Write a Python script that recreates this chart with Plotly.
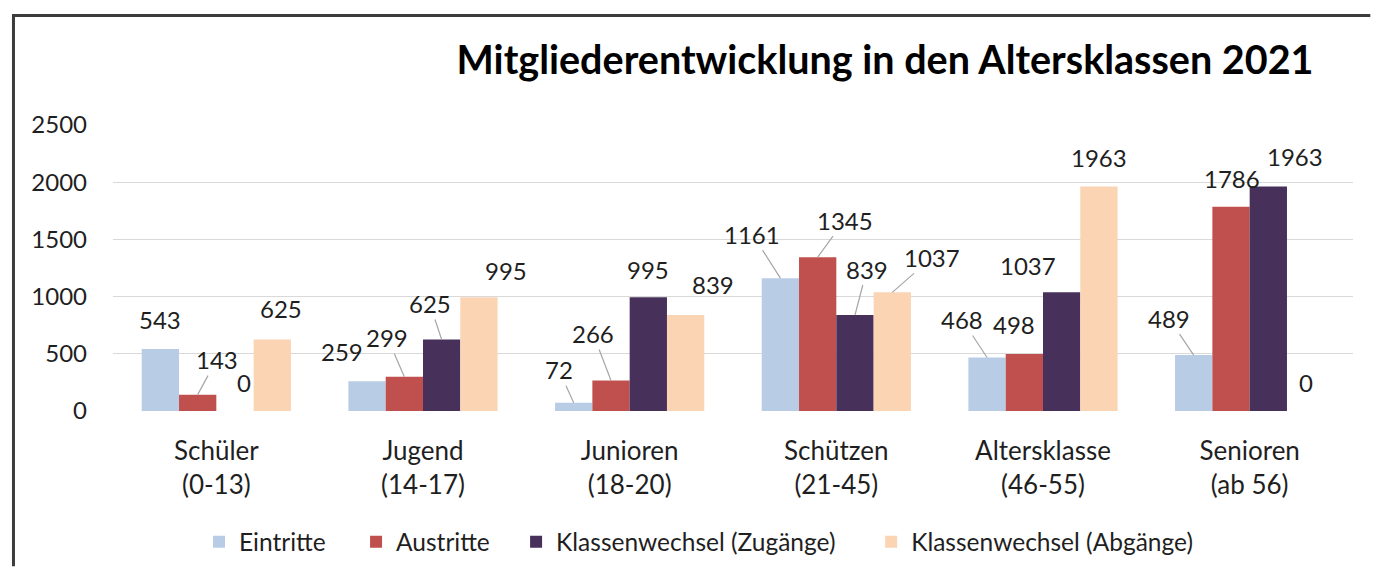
import plotly.graph_objects as go

# ---- data ----
categories = ["Schüler<br>(0-13)", "Jugend<br>(14-17)", "Junioren<br>(18-20)",
              "Schützen<br>(21-45)", "Altersklasse<br>(46-55)", "Senioren<br>(ab 56)"]
series_names = ["Eintritte", "Austritte", "Klassenwechsel (Zugänge)", "Klassenwechsel (Abgänge)"]
eintritte = [543, 259, 72, 1161, 468, 489]
austritte = [143, 299, 266, 1345, 498, 1786]
zugaenge = [0, 625, 995, 839, 1037, 1963]
abgaenge = [625, 995, 839, 1037, 1963, 0]
y_ticks = [0, 500, 1000, 1500, 2000, 2500]

# ---- styles ----
colors = ["#b9cce5", "#c0504d", "#47305a", "#fbd4b4"]
FONT = "Lato"
TXT = "#1f1f1f"
BARGAP = 0.278

# page has an 8px body margin, so the figure is drawn 16px smaller
W, H = 1364, 568
ML, MR, MT, MB = 105, 19.3, 117, 160
plot_w = W - ML - MR
plot_h = H - MT - MB

# label nudges in pixels (dx, dy up) and whether a leader line is drawn
label_style = [
    [(0, 29, False), (-25, 30, False), (-15, 33, True), (-28, 44, True), (-25, 38, True), (-25, 37, True)],
    [(19, 35, True), (-17, 39, True), (-18, 47, True), (27, 37, True), (-10, 30, False), (1, 28, False)],
    [(9, 29, False), (-12, 36, True), (0, 28, False), (12, 46, True), (-34, 27, False), (27, 30, False)],
    [(9, 31, False), (27, 27, False), (27, 31, False), (40, 35, True), (0, 29, False), (0, 29, False)],
]
legend_square_px = [205, 362, 522, 877]

all_series = [eintritte, austritte, zugaenge, abgaenge]
legend_ids = ["legend", "legend2", "legend3", "legend4"]

fig = go.Figure()
for name, vals, col, lid in zip(series_names, all_series, colors, legend_ids):
    fig.add_trace(go.Bar(x=categories, y=vals, name=name, legend=lid,
                         marker=dict(color=col, line=dict(width=0))))

w = (1 - BARGAP) / len(all_series)
annotations = []
for j, vals in enumerate(all_series):
    for i, v in enumerate(vals):
        dx, dy, leader = label_style[j][i]
        xpos = i + (j - (len(all_series) - 1) / 2) * w
        if leader:
            annotations.append(dict(
                x=xpos, y=v, xref="x", yref="y", text=str(v), showarrow=True,
                ax=dx, ay=-dy, axref="pixel", ayref="pixel", arrowhead=0, arrowwidth=1.2,
                arrowcolor="#a6a6a6", standoff=0, startstandoff=0,
                font=dict(family=FONT, size=24, color=TXT)))
        else:
            annotations.append(dict(
                x=xpos, y=v, xref="x", yref="y", text=str(v), showarrow=False,
                xshift=dx, yshift=dy, yanchor="middle", xanchor="center",
                font=dict(family=FONT, size=24, color=TXT)))

# chart frame: one open path along the left and top edges
bx = (5.5 - ML) / plot_w
by = 1 + (MT - 5.5) / plot_h
ybot = -(H - 2 - MT - plot_h) / plot_h
xright = (W - 2 - ML) / plot_w
frame_path = f"M {bx:.6f},{ybot:.6f} L {bx:.6f},{by:.6f} L {xright:.6f},{by:.6f}"
shapes = [dict(type="path", xref="paper", yref="paper", path=frame_path,
               line=dict(color="#3c3c3c", width=3), fillcolor="rgba(0,0,0,0)", layer="above")]

legend_layouts = {}
for lid, sq in zip(legend_ids, legend_square_px):
    legend_layouts[lid] = dict(orientation="h", x=(sq - 14 - ML) / plot_w, xanchor="left",
                               y=-(541 - MT - plot_h) / plot_h, yanchor="middle",
                               font=dict(family=FONT, size=24.5, color=TXT),
                               bgcolor="rgba(0,0,0,0)", borderwidth=0, itemclick=False)

fig.update_layout(
    width=W, height=H,
    margin=dict(l=ML, r=MR, t=MT, b=MB),
    paper_bgcolor="white", plot_bgcolor="white",
    barmode="group", bargap=BARGAP, bargroupgap=0,
    title=dict(text="<b>Mitgliederentwicklung in den Altersklassen 2021</b>",
               x=877 / W, xanchor="center", xref="container",
               y=1 - 52 / H, yanchor="middle", yref="container",
               font=dict(family=FONT, size=39.5, color="#000000")),
    font=dict(family=FONT, size=24, color=TXT),
    showlegend=True,
    annotations=annotations,
    shapes=shapes,
    **legend_layouts,
)
fig.update_xaxes(type="category", showgrid=False, showline=False, ticks="",
                 tickfont=dict(family=FONT, size=26, color=TXT), ticklabelstandoff=22)
fig.update_yaxes(range=[0, 2500], tickvals=y_ticks, showgrid=True, gridcolor="#d9d9d9",
                 gridwidth=1.2, zeroline=False, showline=False, ticks="",
                 tickfont=dict(family=FONT, size=24, color=TXT), ticklabelstandoff=25)

fig.write_html("out.html")
